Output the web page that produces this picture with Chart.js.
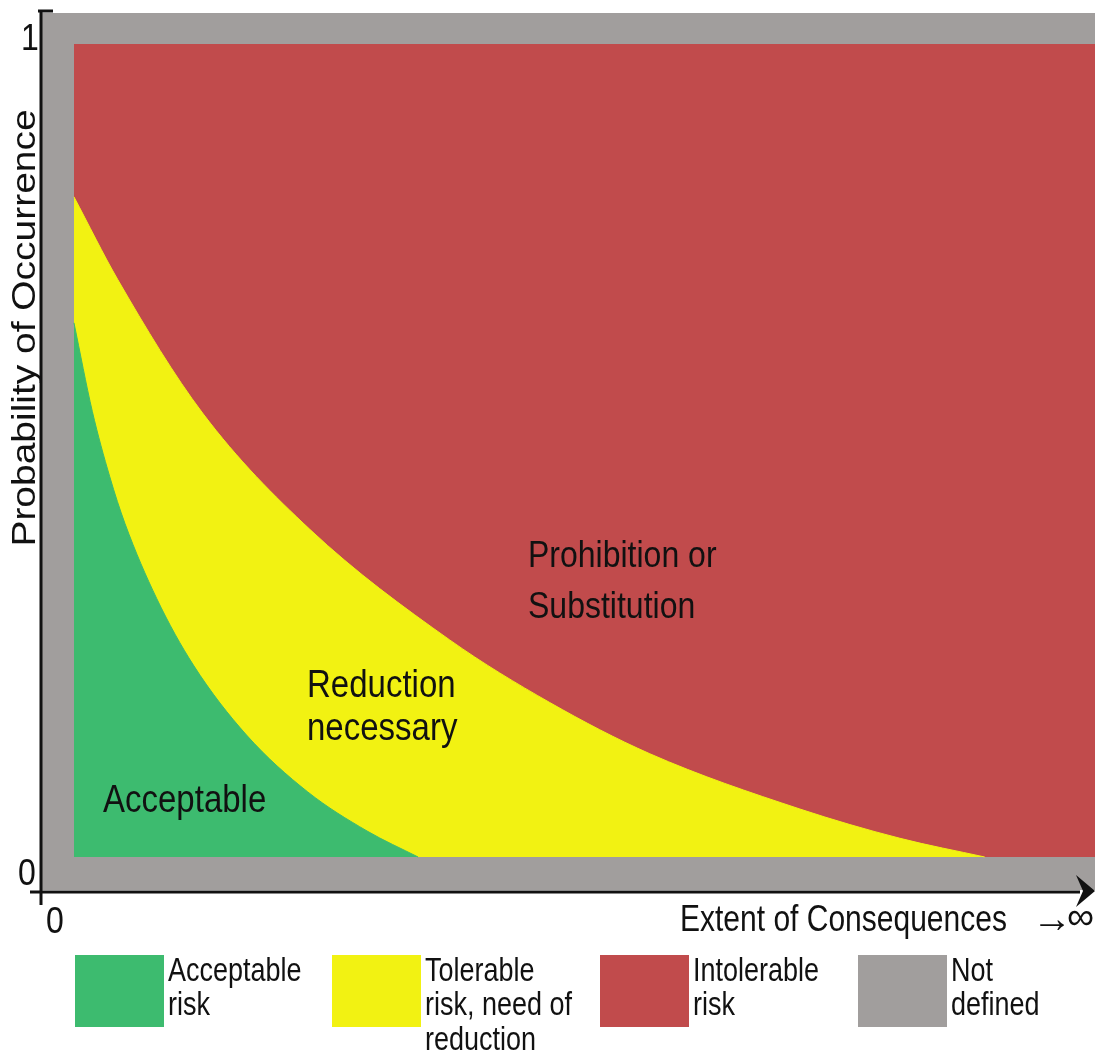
<!DOCTYPE html>
<html>
<head>
<meta charset="utf-8">
<script src="https://cdn.jsdelivr.net/npm/chart.js@4.4.1/dist/chart.umd.min.js"></script>
<style>
  html, body { margin: 0; padding: 0; background: #fff; }
</style>
</head>
<body>
<canvas id="risk" width="1095" height="1062"></canvas>
<script>
// zone boundaries (x = extent of consequences, y = probability)
const intolerableX = [0, 1];
const intolerableY = [1, 1];

const tolerableX = [0, 0.043, 0.126, 0.231, 0.368, 0.466, 0.564, 0.711, 0.809, 0.892];
const tolerableY = [0.812, 0.710, 0.546, 0.403, 0.267, 0.190, 0.127, 0.059, 0.023, 0];

const acceptableX = [0, 0.018, 0.035, 0.050, 0.081, 0.117, 0.169, 0.229, 0.287, 0.337];
const acceptableY = [0.657, 0.548, 0.468, 0.410, 0.318, 0.236, 0.150, 0.080, 0.032, 0];

const yTickLabels = ['0', '1'];
const xTickLabels = ['0'];
const xTitle = 'Extent of Consequences';
const yTitle = 'Probability of Occurrence';

const zoneNames = [['Acceptable'], ['Reduction', 'necessary'], ['Prohibition or', 'Substitution']];
const legendLabels = [
    ['Acceptable', 'risk'],
    ['Tolerable', 'risk, need of', 'reduction'],
    ['Intolerable', 'risk'],
    ['Not', 'defined']
];

const GREEN = '#3dbb6f';
const YELLOW = '#f2f212';
const RED = '#c14b4c';
const GREY = '#a19e9d';
const FONT = '"Liberation Sans", Arial, sans-serif';

function pts(xs, ys) {
    return xs.map((x, i) => ({ x: x, y: ys[i] }));
}

// text in the picture is a bit stretched vertically
function stretchText(ctx, text, x, y, size, sy) {
    ctx.save();
    ctx.font = size + 'px ' + FONT;
    ctx.translate(x, y);
    ctx.scale(1, sy);
    ctx.fillText(text, 0, 0);
    ctx.restore();
}

const greyFrame = {
    id: 'greyFrame',
    beforeDraw(chart) {
        const { ctx, chartArea: a } = chart;
        ctx.save();
        ctx.fillStyle = '#fff';
        ctx.fillRect(0, 0, chart.width, chart.height);
        ctx.fillStyle = GREY;
        ctx.fillRect(a.left, a.top, a.right - a.left, a.bottom - a.top);
        ctx.restore();
    }
};

const decorations = {
    id: 'decorations',
    afterDraw(chart) {
        const ctx = chart.ctx;
        ctx.save();
        ctx.fillStyle = '#111';
        ctx.strokeStyle = '#111';
        ctx.textAlign = 'left';
        ctx.textBaseline = 'alphabetic';

        // zone names
        stretchText(ctx, zoneNames[0][0], 103, 812, 33, 1.15);
        stretchText(ctx, zoneNames[1][0], 307, 697, 33, 1.15);
        stretchText(ctx, zoneNames[1][1], 307, 740, 33, 1.15);
        stretchText(ctx, zoneNames[2][0], 528, 567, 32, 1.17);
        stretchText(ctx, zoneNames[2][1], 528, 618, 32, 1.17);

        // axes
        ctx.lineWidth = 3;
        ctx.beginPath();
        ctx.moveTo(41, 10); ctx.lineTo(41, 905);
        ctx.moveTo(38, 11); ctx.lineTo(53, 11);
        ctx.moveTo(30, 892); ctx.lineTo(1080, 892);
        ctx.stroke();
        ctx.beginPath();
        ctx.moveTo(1095, 891);
        ctx.lineTo(1076, 875);
        ctx.lineTo(1083, 891);
        ctx.lineTo(1076, 907);
        ctx.closePath();
        ctx.fill();

        // tick labels
        stretchText(ctx, yTickLabels[1], 21, 50, 32, 1.17);
        stretchText(ctx, yTickLabels[0], 18, 885, 32, 1.17);
        stretchText(ctx, xTickLabels[0], 46, 933, 32, 1.17);

        // axis titles
        stretchText(ctx, xTitle, 680, 931, 30, 1.2);
        ctx.save();
        ctx.textBaseline = 'middle';
        ctx.font = '40px ' + FONT;
        ctx.fillText('\u2192', 1032, 921);
        ctx.font = '38px ' + FONT;
        ctx.fillText('\u221e', 1067, 919);
        ctx.restore();

        ctx.save();
        ctx.translate(35, 328);
        ctx.rotate(-Math.PI / 2);
        ctx.scale(1.18, 1);
        ctx.font = '33px ' + FONT;
        ctx.textAlign = 'center';
        ctx.fillText(yTitle, 0, 0);
        ctx.restore();

        // legend
        const boxes = [[75, GREEN], [332, YELLOW], [600, RED], [858, GREY]];
        const lineY = [981, 1015, 1050];
        boxes.forEach((b, i) => {
            ctx.fillStyle = b[1];
            ctx.fillRect(b[0], 955, 89, 72);
            ctx.fillStyle = '#111';
            legendLabels[i].forEach((t, j) => {
                stretchText(ctx, t, b[0] + 93, lineY[j], 27, 1.2);
            });
        });
        ctx.restore();
    }
};

const config = {
    type: 'line',
    data: {
        datasets: [
            {
                label: 'Acceptable risk',
                data: pts(acceptableX, acceptableY),
                backgroundColor: GREEN,
                borderColor: GREEN,
                borderWidth: 1,
                fill: 'origin',
                pointRadius: 0,
                cubicInterpolationMode: 'monotone',
                order: 1
            },
            {
                label: 'Tolerable risk, need of reduction',
                data: pts(tolerableX, tolerableY),
                backgroundColor: YELLOW,
                borderColor: YELLOW,
                borderWidth: 1,
                fill: 'origin',
                pointRadius: 0,
                cubicInterpolationMode: 'monotone',
                order: 2
            },
            {
                label: 'Intolerable risk',
                data: pts(intolerableX, intolerableY),
                backgroundColor: RED,
                borderColor: RED,
                borderWidth: 0,
                fill: 'origin',
                pointRadius: 0,
                order: 3
            }
        ]
    },
    options: {
        responsive: false,
        animation: false,
        layout: { padding: { left: 42, top: 13, right: 0, bottom: 172 } },
        plugins: {
            legend: { display: false },
            tooltip: { enabled: false }
        },
        scales: {
            x: { type: 'linear', min: -0.0313, max: 1, display: false },
            y: { type: 'linear', min: -0.0406, max: 1.0381, display: false }
        }
    },
    plugins: [greyFrame, decorations]
};

var ctx = document.getElementById('risk');
var chart = new Chart(ctx, config);
</script>
</body>
</html>
